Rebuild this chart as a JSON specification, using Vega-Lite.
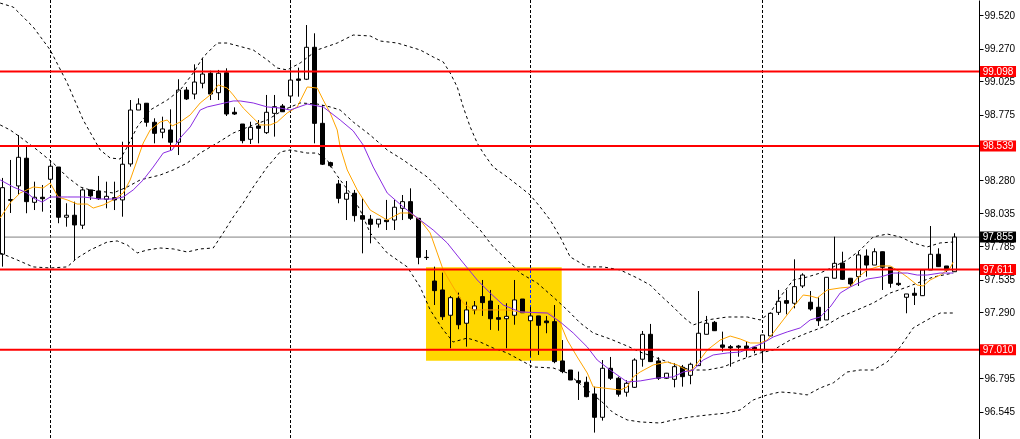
{
  "$schema": "https://vega.github.io/schema/vega-lite/v6.json",
  "width": 979,
  "height": 439,
  "autosize": {"type": "none"},
  "padding": {"left": 0, "top": 0, "right": 41, "bottom": 0},
  "background": "white",
  "config": {
    "view": {"stroke": null},
    "scale": {"continuousPadding": 0},
    "axisY": {
      "title": null, "grid": false, "format": ".3f", "zindex": 0,
      "domainColor": "black", "domainWidth": 1, "tickColor": "black", "tickSize": 4, "tickWidth": 1,
      "labelColor": "black", "labelFont": "Liberation Sans", "labelFontSize": 10, "labelPadding": 1,
      "labelOverlap": false, "labelFlush": false, "labelBound": false
    }
  },
  "datasets": {
    "zone": [{"i0": 52.94, "i1": 69.9, "bottom": 96.927, "top": 97.628}],
    "grid": [{"i": 6}, {"i": 36}, {"i": 66}, {"i": 95}],
    "levels": [{"p": 99.098}, {"p": 98.539}, {"p": 97.611}, {"p": 97.010}],
    "bid": [{"p": 97.855}],
    "candles": [
      {"i":0,"o":97.726,"h":98.299,"l":97.633,"c":98.226},
      {"i":1,"o":98.130,"h":98.434,"l":98.036,"c":98.137},
      {"i":2,"o":98.239,"h":98.621,"l":98.171,"c":98.454},
      {"i":3,"o":98.447,"h":98.539,"l":98.034,"c":98.121},
      {"i":4,"o":98.116,"h":98.271,"l":98.058,"c":98.154},
      {"i":5,"o":98.154,"h":98.246,"l":98.046,"c":98.143},
      {"i":6,"o":98.289,"h":98.409,"l":98.284,"c":98.387},
      {"i":7,"o":98.381,"h":98.381,"l":97.959,"c":98.004},
      {"i":8,"o":98.004,"h":98.109,"l":97.933,"c":98.019},
      {"i":9,"o":98.019,"h":98.121,"l":97.683,"c":97.946},
      {"i":10,"o":97.944,"h":98.221,"l":97.916,"c":98.209},
      {"i":11,"o":98.209,"h":98.209,"l":98.134,"c":98.164},
      {"i":12,"o":98.201,"h":98.314,"l":98.134,"c":98.143},
      {"i":13,"o":98.139,"h":98.271,"l":98.071,"c":98.161},
      {"i":14,"o":98.151,"h":98.271,"l":98.058,"c":98.134},
      {"i":15,"o":98.134,"h":98.571,"l":98.008,"c":98.402},
      {"i":16,"o":98.404,"h":98.884,"l":98.384,"c":98.809},
      {"i":17,"o":98.809,"h":98.897,"l":98.809,"c":98.854},
      {"i":18,"o":98.860,"h":98.860,"l":98.684,"c":98.717},
      {"i":19,"o":98.717,"h":98.747,"l":98.559,"c":98.634},
      {"i":20,"o":98.642,"h":98.759,"l":98.597,"c":98.667},
      {"i":21,"o":98.659,"h":98.814,"l":98.509,"c":98.567},
      {"i":22,"o":98.567,"h":99.040,"l":98.471,"c":98.959},
      {"i":23,"o":98.959,"h":98.982,"l":98.884,"c":98.892},
      {"i":24,"o":98.929,"h":99.152,"l":98.890,"c":99.019},
      {"i":25,"o":99.010,"h":99.197,"l":98.972,"c":99.079},
      {"i":26,"o":99.085,"h":99.104,"l":98.884,"c":98.929},
      {"i":27,"o":98.939,"h":99.110,"l":98.884,"c":99.085},
      {"i":28,"o":99.089,"h":99.122,"l":98.764,"c":98.779},
      {"i":29,"o":98.792,"h":98.829,"l":98.772,"c":98.779},
      {"i":30,"o":98.704,"h":98.704,"l":98.559,"c":98.579},
      {"i":31,"o":98.589,"h":98.721,"l":98.554,"c":98.679},
      {"i":32,"o":98.689,"h":98.734,"l":98.559,"c":98.672},
      {"i":33,"o":98.639,"h":98.922,"l":98.629,"c":98.792},
      {"i":34,"o":98.784,"h":98.922,"l":98.609,"c":98.834},
      {"i":35,"o":98.839,"h":98.854,"l":98.794,"c":98.796},
      {"i":36,"o":98.914,"h":99.172,"l":98.871,"c":99.034},
      {"i":37,"o":99.042,"h":99.127,"l":98.909,"c":99.032},
      {"i":38,"o":99.040,"h":99.447,"l":99.034,"c":99.280},
      {"i":39,"o":99.280,"h":99.385,"l":98.559,"c":98.709},
      {"i":40,"o":98.709,"h":98.847,"l":98.396,"c":98.402},
      {"i":41,"o":98.414,"h":98.421,"l":98.379,"c":98.391},
      {"i":42,"o":98.254,"h":98.284,"l":98.109,"c":98.146},
      {"i":43,"o":98.139,"h":98.276,"l":97.983,"c":98.184},
      {"i":44,"o":98.184,"h":98.209,"l":97.971,"c":98.016},
      {"i":45,"o":98.016,"h":98.146,"l":97.733,"c":97.989},
      {"i":46,"o":97.989,"h":98.021,"l":97.808,"c":97.951},
      {"i":47,"o":97.953,"h":97.989,"l":97.926,"c":97.989},
      {"i":48,"o":97.983,"h":98.134,"l":97.908,"c":97.971},
      {"i":49,"o":97.983,"h":98.134,"l":97.908,"c":98.079},
      {"i":50,"o":98.071,"h":98.171,"l":97.983,"c":98.121},
      {"i":51,"o":98.121,"h":98.221,"l":97.983,"c":97.996},
      {"i":52,"o":97.996,"h":97.996,"l":97.651,"c":97.703},
      {"i":53,"o":97.703,"h":97.758,"l":97.683,"c":97.701},
      {"i":54,"o":97.525,"h":97.633,"l":97.345,"c":97.453},
      {"i":55,"o":97.458,"h":97.588,"l":97.233,"c":97.257},
      {"i":56,"o":97.268,"h":97.413,"l":97.020,"c":97.400},
      {"i":57,"o":97.396,"h":97.438,"l":97.163,"c":97.197},
      {"i":58,"o":97.208,"h":97.370,"l":97.032,"c":97.308},
      {"i":59,"o":97.308,"h":97.375,"l":97.275,"c":97.338},
      {"i":60,"o":97.408,"h":97.533,"l":97.263,"c":97.363},
      {"i":61,"o":97.375,"h":97.458,"l":97.158,"c":97.242},
      {"i":62,"o":97.250,"h":97.345,"l":97.152,"c":97.238},
      {"i":63,"o":97.242,"h":97.358,"l":97.020,"c":97.260},
      {"i":64,"o":97.268,"h":97.533,"l":97.197,"c":97.383},
      {"i":65,"o":97.390,"h":97.390,"l":97.287,"c":97.287},
      {"i":66,"o":97.227,"h":97.332,"l":96.957,"c":97.263},
      {"i":67,"o":97.263,"h":97.263,"l":96.970,"c":97.193},
      {"i":68,"o":97.225,"h":97.263,"l":97.133,"c":97.212},
      {"i":69,"o":97.220,"h":97.345,"l":96.908,"c":96.920},
      {"i":70,"o":96.925,"h":97.082,"l":96.833,"c":96.845},
      {"i":71,"o":96.857,"h":96.857,"l":96.782,"c":96.782},
      {"i":72,"o":96.777,"h":96.845,"l":96.632,"c":96.762},
      {"i":73,"o":96.765,"h":96.807,"l":96.652,"c":96.657},
      {"i":74,"o":96.677,"h":96.732,"l":96.387,"c":96.502},
      {"i":75,"o":96.502,"h":96.932,"l":96.477,"c":96.870},
      {"i":76,"o":96.870,"h":96.955,"l":96.782,"c":96.795},
      {"i":77,"o":96.795,"h":96.807,"l":96.657,"c":96.675},
      {"i":78,"o":96.690,"h":96.780,"l":96.657,"c":96.757},
      {"i":79,"o":96.727,"h":96.945,"l":96.722,"c":96.932},
      {"i":80,"o":96.938,"h":97.150,"l":96.882,"c":97.125},
      {"i":81,"o":97.125,"h":97.203,"l":96.917,"c":96.920},
      {"i":82,"o":96.925,"h":96.953,"l":96.782,"c":96.795},
      {"i":83,"o":96.795,"h":96.835,"l":96.790,"c":96.833},
      {"i":84,"o":96.787,"h":96.908,"l":96.727,"c":96.882},
      {"i":85,"o":96.878,"h":96.895,"l":96.732,"c":96.807},
      {"i":86,"o":96.817,"h":96.912,"l":96.750,"c":96.900},
      {"i":87,"o":96.890,"h":97.450,"l":96.887,"c":97.133},
      {"i":88,"o":97.125,"h":97.263,"l":97.125,"c":97.208},
      {"i":89,"o":97.215,"h":97.225,"l":97.150,"c":97.152},
      {"i":90,"o":97.045,"h":97.145,"l":96.995,"c":97.028},
      {"i":91,"o":97.032,"h":97.045,"l":96.882,"c":97.022},
      {"i":92,"o":97.037,"h":97.045,"l":96.957,"c":97.028},
      {"i":93,"o":97.037,"h":97.070,"l":96.953,"c":97.017},
      {"i":94,"o":97.028,"h":97.032,"l":96.983,"c":97.007},
      {"i":95,"o":97.000,"h":97.120,"l":96.908,"c":97.120},
      {"i":96,"o":97.113,"h":97.283,"l":97.107,"c":97.283},
      {"i":97,"o":97.290,"h":97.458,"l":97.270,"c":97.373},
      {"i":98,"o":97.378,"h":97.458,"l":97.275,"c":97.358},
      {"i":99,"o":97.358,"h":97.688,"l":97.320,"c":97.483},
      {"i":100,"o":97.488,"h":97.583,"l":97.473,"c":97.570},
      {"i":101,"o":97.366,"h":97.450,"l":97.302,"c":97.315},
      {"i":102,"o":97.328,"h":97.403,"l":97.188,"c":97.227},
      {"i":103,"o":97.233,"h":97.553,"l":97.233,"c":97.553},
      {"i":104,"o":97.546,"h":97.858,"l":97.546,"c":97.658},
      {"i":105,"o":97.660,"h":97.745,"l":97.533,"c":97.538},
      {"i":106,"o":97.546,"h":97.548,"l":97.488,"c":97.503},
      {"i":107,"o":97.558,"h":97.745,"l":97.488,"c":97.721},
      {"i":108,"o":97.713,"h":97.763,"l":97.558,"c":97.645},
      {"i":109,"o":97.645,"h":97.771,"l":97.645,"c":97.745},
      {"i":110,"o":97.745,"h":97.745,"l":97.458,"c":97.628},
      {"i":111,"o":97.628,"h":97.628,"l":97.475,"c":97.508},
      {"i":112,"o":97.508,"h":97.595,"l":97.488,"c":97.498},
      {"i":113,"o":97.403,"h":97.428,"l":97.283,"c":97.428},
      {"i":114,"o":97.433,"h":97.475,"l":97.345,"c":97.418},
      {"i":115,"o":97.415,"h":97.608,"l":97.413,"c":97.608},
      {"i":116,"o":97.608,"h":97.938,"l":97.608,"c":97.726},
      {"i":117,"o":97.726,"h":97.771,"l":97.633,"c":97.633},
      {"i":118,"o":97.638,"h":97.638,"l":97.593,"c":97.608},
      {"i":119,"o":97.595,"h":97.884,"l":97.593,"c":97.855}
    ],
    "bands": [
      {"s":"upper","i":-0.29,"p":99.612},{"s":"upper","i":1.34,"p":99.582},{"s":"upper","i":3.84,"p":99.432},{"s":"upper","i":5.96,"p":99.26},{"s":"upper","i":8.09,"p":99.012},{"s":"upper","i":10.09,"p":98.734},{"s":"upper","i":12.21,"p":98.509},{"s":"upper","i":13.46,"p":98.449},{"s":"upper","i":14.71,"p":98.441},{"s":"upper","i":15.59,"p":98.531},{"s":"upper","i":16.84,"p":98.682},{"s":"upper","i":18.46,"p":98.809},{"s":"upper","i":20.59,"p":98.884},{"s":"upper","i":22.21,"p":98.959},{"s":"upper","i":23.84,"p":99.087},{"s":"upper","i":25.09,"p":99.207},{"s":"upper","i":26.84,"p":99.312},{"s":"upper","i":28.09,"p":99.312},{"s":"upper","i":31.34,"p":99.26},{"s":"upper","i":33.09,"p":99.185},{"s":"upper","i":34.34,"p":99.124},{"s":"upper","i":35.59,"p":99.11},{"s":"upper","i":37.21,"p":99.162},{"s":"upper","i":39.34,"p":99.26},{"s":"upper","i":41.84,"p":99.312},{"s":"upper","i":43.84,"p":99.372},{"s":"upper","i":45.96,"p":99.365},{"s":"upper","i":47.21,"p":99.327},{"s":"upper","i":49.34,"p":99.312},{"s":"upper","i":52.21,"p":99.26},{"s":"upper","i":53.84,"p":99.207},{"s":"upper","i":55.09,"p":99.17},{"s":"upper","i":55.96,"p":99.087},{"s":"upper","i":56.84,"p":98.982},{"s":"upper","i":57.59,"p":98.832},{"s":"upper","i":58.46,"p":98.682},{"s":"upper","i":59.34,"p":98.561},{"s":"upper","i":60.09,"p":98.486},{"s":"upper","i":61.34,"p":98.381},{"s":"upper","i":63.09,"p":98.306},{"s":"upper","i":64.71,"p":98.231},{"s":"upper","i":65.96,"p":98.171},{"s":"upper","i":67.21,"p":98.081},{"s":"upper","i":68.46,"p":97.983},{"s":"upper","i":69.71,"p":97.856},{"s":"upper","i":70.96,"p":97.706},{"s":"upper","i":73.09,"p":97.631},{"s":"upper","i":75.09,"p":97.631},{"s":"upper","i":77.21,"p":97.608},{"s":"upper","i":79.34,"p":97.548},{"s":"upper","i":80.96,"p":97.495},{"s":"upper","i":82.21,"p":97.42},{"s":"upper","i":83.84,"p":97.33},{"s":"upper","i":85.09,"p":97.255},{"s":"upper","i":86.34,"p":97.195},{"s":"upper","i":88.09,"p":97.233},{"s":"upper","i":90.59,"p":97.255},{"s":"upper","i":93.09,"p":97.255},{"s":"upper","i":94.71,"p":97.233},{"s":"upper","i":95.96,"p":97.285},{"s":"upper","i":97.21,"p":97.405},{"s":"upper","i":98.84,"p":97.533},{"s":"upper","i":100.59,"p":97.555},{"s":"upper","i":102.21,"p":97.585},{"s":"upper","i":103.84,"p":97.631},{"s":"upper","i":105.59,"p":97.683},{"s":"upper","i":107.21,"p":97.758},{"s":"upper","i":108.84,"p":97.856},{"s":"upper","i":110.59,"p":97.878},{"s":"upper","i":112.21,"p":97.856},{"s":"upper","i":113.84,"p":97.811},{"s":"upper","i":115.59,"p":97.781},{"s":"upper","i":117.21,"p":97.811},{"s":"upper","i":118.84,"p":97.818},
      {"s":"middle","i":-0.29,"p":98.697},{"s":"middle","i":0.96,"p":98.659},{"s":"middle","i":2.21,"p":98.606},{"s":"middle","i":4.34,"p":98.509},{"s":"middle","i":6.34,"p":98.411},{"s":"middle","i":8.09,"p":98.306},{"s":"middle","i":9.71,"p":98.231},{"s":"middle","i":10.96,"p":98.209},{"s":"middle","i":13.84,"p":98.186},{"s":"middle","i":15.59,"p":98.231},{"s":"middle","i":17.21,"p":98.284},{"s":"middle","i":19.71,"p":98.321},{"s":"middle","i":21.34,"p":98.359},{"s":"middle","i":23.09,"p":98.411},{"s":"middle","i":24.71,"p":98.486},{"s":"middle","i":26.84,"p":98.561},{"s":"middle","i":28.84,"p":98.636},{"s":"middle","i":31.34,"p":98.697},{"s":"middle","i":33.09,"p":98.734},{"s":"middle","i":35.09,"p":98.809},{"s":"middle","i":37.21,"p":98.862},{"s":"middle","i":39.34,"p":98.854},{"s":"middle","i":40.96,"p":98.832},{"s":"middle","i":42.21,"p":98.809},{"s":"middle","i":43.84,"p":98.719},{"s":"middle","i":45.96,"p":98.621},{"s":"middle","i":48.09,"p":98.509},{"s":"middle","i":50.09,"p":98.434},{"s":"middle","i":51.34,"p":98.381},{"s":"middle","i":53.09,"p":98.306},{"s":"middle","i":54.71,"p":98.209},{"s":"middle","i":56.34,"p":98.111},{"s":"middle","i":58.09,"p":98.006},{"s":"middle","i":59.71,"p":97.908},{"s":"middle","i":61.34,"p":97.781},{"s":"middle","i":63.09,"p":97.683},{"s":"middle","i":64.71,"p":97.585},{"s":"middle","i":66.84,"p":97.51},{"s":"middle","i":68.84,"p":97.405},{"s":"middle","i":70.59,"p":97.308},{"s":"middle","i":72.21,"p":97.21},{"s":"middle","i":73.84,"p":97.135},{"s":"middle","i":75.96,"p":97.09},{"s":"middle","i":78.09,"p":97.037},{"s":"middle","i":79.71,"p":96.992},{"s":"middle","i":85.96,"p":96.857},{"s":"middle","i":88.09,"p":96.857},{"s":"middle","i":90.09,"p":96.88},{"s":"middle","i":92.21,"p":96.932},{"s":"middle","i":94.71,"p":96.985},{"s":"middle","i":96.34,"p":97.007},{"s":"middle","i":98.46,"p":97.082},{"s":"middle","i":100.59,"p":97.135},{"s":"middle","i":102.59,"p":97.18},{"s":"middle","i":104.71,"p":97.255},{"s":"middle","i":106.84,"p":97.308},{"s":"middle","i":108.84,"p":97.36},{"s":"middle","i":110.96,"p":97.435},{"s":"middle","i":113.09,"p":97.48},{"s":"middle","i":114.71,"p":97.518},{"s":"middle","i":116.34,"p":97.555},{"s":"middle","i":118.84,"p":97.585},
      {"s":"lower","i":-0.29,"p":97.736},{"s":"lower","i":1.84,"p":97.683},{"s":"lower","i":3.84,"p":97.631},{"s":"lower","i":5.96,"p":97.623},{"s":"lower","i":8.09,"p":97.631},{"s":"lower","i":9.34,"p":97.698},{"s":"lower","i":10.96,"p":97.758},{"s":"lower","i":13.09,"p":97.818},{"s":"lower","i":14.34,"p":97.826},{"s":"lower","i":15.59,"p":97.796},{"s":"lower","i":16.84,"p":97.736},{"s":"lower","i":18.09,"p":97.758},{"s":"lower","i":19.71,"p":97.773},{"s":"lower","i":21.34,"p":97.766},{"s":"lower","i":23.09,"p":97.743},{"s":"lower","i":24.71,"p":97.766},{"s":"lower","i":26.34,"p":97.773},{"s":"lower","i":27.59,"p":97.886},{"s":"lower","i":28.84,"p":98.006},{"s":"lower","i":30.09,"p":98.111},{"s":"lower","i":31.34,"p":98.231},{"s":"lower","i":33.09,"p":98.381},{"s":"lower","i":34.71,"p":98.494},{"s":"lower","i":35.96,"p":98.509},{"s":"lower","i":38.09,"p":98.486},{"s":"lower","i":39.34,"p":98.486},{"s":"lower","i":40.59,"p":98.434},{"s":"lower","i":41.34,"p":98.359},{"s":"lower","i":42.21,"p":98.284},{"s":"lower","i":43.46,"p":98.186},{"s":"lower","i":44.71,"p":98.058},{"s":"lower","i":45.96,"p":97.886},{"s":"lower","i":48.09,"p":97.736},{"s":"lower","i":50.59,"p":97.631},{"s":"lower","i":52.21,"p":97.48},{"s":"lower","i":53.46,"p":97.308},{"s":"lower","i":55.09,"p":97.158},{"s":"lower","i":56.34,"p":97.067},{"s":"lower","i":58.09,"p":97.097},{"s":"lower","i":59.71,"p":97.067},{"s":"lower","i":61.34,"p":97.022},{"s":"lower","i":63.09,"p":96.985},{"s":"lower","i":64.71,"p":96.932},{"s":"lower","i":66.34,"p":96.88},{"s":"lower","i":68.84,"p":96.872},{"s":"lower","i":70.59,"p":96.835},{"s":"lower","i":73.09,"p":96.707},{"s":"lower","i":75.09,"p":96.61},{"s":"lower","i":76.34,"p":96.535},{"s":"lower","i":78.09,"p":96.482},{"s":"lower","i":79.71,"p":96.467},{"s":"lower","i":82.21,"p":96.459},{"s":"lower","i":83.84,"p":96.482},{"s":"lower","i":85.96,"p":96.504},{"s":"lower","i":88.09,"p":96.519},{"s":"lower","i":90.59,"p":96.534},{"s":"lower","i":92.21,"p":96.557},{"s":"lower","i":93.84,"p":96.632},{"s":"lower","i":95.59,"p":96.67},{"s":"lower","i":97.21,"p":96.692},{"s":"lower","i":98.84,"p":96.685},{"s":"lower","i":100.59,"p":96.67},{"s":"lower","i":102.21,"p":96.722},{"s":"lower","i":103.84,"p":96.76},{"s":"lower","i":105.59,"p":96.842},{"s":"lower","i":107.21,"p":96.857},{"s":"lower","i":108.84,"p":96.857},{"s":"lower","i":110.59,"p":96.917},{"s":"lower","i":112.21,"p":97.03},{"s":"lower","i":113.84,"p":97.173},{"s":"lower","i":115.59,"p":97.233},{"s":"lower","i":117.21,"p":97.285},{"s":"lower","i":118.84,"p":97.285}
    ],
    "averages": [
      {"s":"fast","i":-0.29,"p":97.998},{"s":"fast","i":0.96,"p":98.111},{"s":"fast","i":2.21,"p":98.186},{"s":"fast","i":3.84,"p":98.231},{"s":"fast","i":5.09,"p":98.224},{"s":"fast","i":5.96,"p":98.261},{"s":"fast","i":6.96,"p":98.156},{"s":"fast","i":8.09,"p":98.134},{"s":"fast","i":9.34,"p":98.103},{"s":"fast","i":10.59,"p":98.103},{"s":"fast","i":11.34,"p":98.073},{"s":"fast","i":12.59,"p":98.096},{"s":"fast","i":13.84,"p":98.134},{"s":"fast","i":15.09,"p":98.186},{"s":"fast","i":15.96,"p":98.284},{"s":"fast","i":16.84,"p":98.434},{"s":"fast","i":17.59,"p":98.561},{"s":"fast","i":18.46,"p":98.659},{"s":"fast","i":19.71,"p":98.719},{"s":"fast","i":20.59,"p":98.734},{"s":"fast","i":21.21,"p":98.689},{"s":"fast","i":22.21,"p":98.719},{"s":"fast","i":23.46,"p":98.772},{"s":"fast","i":24.71,"p":98.862},{"s":"fast","i":25.96,"p":98.922},{"s":"fast","i":26.96,"p":98.997},{"s":"fast","i":28.09,"p":98.974},{"s":"fast","i":28.84,"p":98.922},{"s":"fast","i":30.09,"p":98.824},{"s":"fast","i":31.34,"p":98.749},{"s":"fast","i":32.21,"p":98.697},{"s":"fast","i":33.46,"p":98.697},{"s":"fast","i":34.34,"p":98.719},{"s":"fast","i":35.59,"p":98.787},{"s":"fast","i":36.84,"p":98.832},{"s":"fast","i":38.09,"p":98.982},{"s":"fast","i":39.34,"p":98.974},{"s":"fast","i":40.09,"p":98.884},{"s":"fast","i":40.96,"p":98.787},{"s":"fast","i":41.84,"p":98.659},{"s":"fast","i":42.21,"p":98.531},{"s":"fast","i":43.09,"p":98.359},{"s":"fast","i":44.34,"p":98.209},{"s":"fast","i":45.96,"p":98.058},{"s":"fast","i":48.09,"p":97.983},{"s":"fast","i":49.71,"p":98.036},{"s":"fast","i":50.96,"p":98.036},{"s":"fast","i":52.21,"p":97.983},{"s":"fast","i":53.46,"p":97.886},{"s":"fast","i":54.34,"p":97.736},{"s":"fast","i":55.09,"p":97.608},{"s":"fast","i":56.34,"p":97.48},{"s":"fast","i":57.59,"p":97.36},{"s":"fast","i":58.84,"p":97.308},{"s":"fast","i":60.59,"p":97.308},{"s":"fast","i":63.09,"p":97.308},{"s":"fast","i":64.71,"p":97.293},{"s":"fast","i":66.84,"p":97.285},{"s":"fast","i":68.46,"p":97.285},{"s":"fast","i":69.71,"p":97.21},{"s":"fast","i":70.59,"p":97.082},{"s":"fast","i":71.84,"p":96.955},{"s":"fast","i":73.09,"p":96.835},{"s":"fast","i":73.84,"p":96.73},{"s":"fast","i":75.09,"p":96.722},{"s":"fast","i":77.21,"p":96.707},{"s":"fast","i":78.09,"p":96.73},{"s":"fast","i":78.84,"p":96.805},{"s":"fast","i":79.71,"p":96.842},{"s":"fast","i":81.34,"p":96.895},{"s":"fast","i":83.09,"p":96.917},{"s":"fast","i":84.34,"p":96.895},{"s":"fast","i":85.96,"p":96.842},{"s":"fast","i":86.96,"p":96.917},{"s":"fast","i":88.09,"p":97.007},{"s":"fast","i":89.71,"p":97.082},{"s":"fast","i":90.96,"p":97.112},{"s":"fast","i":92.21,"p":97.09},{"s":"fast","i":93.46,"p":97.06},{"s":"fast","i":94.71,"p":97.06},{"s":"fast","i":95.59,"p":97.082},{"s":"fast","i":96.34,"p":97.135},{"s":"fast","i":97.59,"p":97.233},{"s":"fast","i":98.84,"p":97.33},{"s":"fast","i":100.09,"p":97.42},{"s":"fast","i":100.96,"p":97.413},{"s":"fast","i":101.84,"p":97.398},{"s":"fast","i":103.09,"p":97.458},{"s":"fast","i":104.71,"p":97.473},{"s":"fast","i":105.96,"p":97.48},{"s":"fast","i":106.84,"p":97.548},{"s":"fast","i":108.09,"p":97.608},{"s":"fast","i":109.71,"p":97.638},{"s":"fast","i":110.96,"p":97.638},{"s":"fast","i":112.21,"p":97.593},{"s":"fast","i":113.09,"p":97.555},{"s":"fast","i":114.34,"p":97.495},{"s":"fast","i":115.09,"p":97.488},{"s":"fast","i":115.96,"p":97.533},{"s":"fast","i":117.21,"p":97.57},{"s":"fast","i":118.46,"p":97.623},{"s":"fast","i":118.84,"p":97.668},
      {"s":"slow","i":-0.29,"p":98.284},{"s":"slow","i":1.34,"p":98.231},{"s":"slow","i":3.09,"p":98.186},{"s":"slow","i":3.84,"p":98.148},{"s":"slow","i":4.96,"p":98.118},{"s":"slow","i":5.96,"p":98.156},{"s":"slow","i":8.09,"p":98.156},{"s":"slow","i":10.09,"p":98.156},{"s":"slow","i":12.21,"p":98.141},{"s":"slow","i":13.84,"p":98.141},{"s":"slow","i":15.09,"p":98.156},{"s":"slow","i":16.34,"p":98.209},{"s":"slow","i":17.59,"p":98.284},{"s":"slow","i":18.84,"p":98.381},{"s":"slow","i":20.09,"p":98.486},{"s":"slow","i":21.21,"p":98.509},{"s":"slow","i":22.21,"p":98.599},{"s":"slow","i":23.46,"p":98.682},{"s":"slow","i":24.71,"p":98.809},{"s":"slow","i":25.59,"p":98.832},{"s":"slow","i":27.21,"p":98.854},{"s":"slow","i":28.84,"p":98.877},{"s":"slow","i":29.71,"p":98.877},{"s":"slow","i":31.34,"p":98.862},{"s":"slow","i":33.09,"p":98.832},{"s":"slow","i":34.71,"p":98.824},{"s":"slow","i":35.96,"p":98.809},{"s":"slow","i":38.09,"p":98.854},{"s":"slow","i":40.09,"p":98.832},{"s":"slow","i":42.21,"p":98.734},{"s":"slow","i":43.84,"p":98.652},{"s":"slow","i":45.09,"p":98.546},{"s":"slow","i":46.34,"p":98.381},{"s":"slow","i":48.09,"p":98.186},{"s":"slow","i":50.09,"p":98.081},{"s":"slow","i":52.21,"p":97.983},{"s":"slow","i":53.84,"p":97.908},{"s":"slow","i":55.59,"p":97.811},{"s":"slow","i":57.59,"p":97.661},{"s":"slow","i":59.34,"p":97.533},{"s":"slow","i":60.96,"p":97.435},{"s":"slow","i":62.59,"p":97.345},{"s":"slow","i":64.71,"p":97.293},{"s":"slow","i":68.09,"p":97.285},{"s":"slow","i":69.71,"p":97.218},{"s":"slow","i":71.34,"p":97.135},{"s":"slow","i":73.09,"p":97.03},{"s":"slow","i":74.34,"p":96.932},{"s":"slow","i":75.96,"p":96.857},{"s":"slow","i":78.09,"p":96.767},{"s":"slow","i":79.71,"p":96.775},{"s":"slow","i":81.84,"p":96.797},{"s":"slow","i":83.84,"p":96.805},{"s":"slow","i":85.09,"p":96.842},{"s":"slow","i":86.34,"p":96.857},{"s":"slow","i":87.59,"p":96.932},{"s":"slow","i":88.84,"p":96.97},{"s":"slow","i":90.59,"p":96.985},{"s":"slow","i":92.21,"p":96.992},{"s":"slow","i":93.84,"p":97.03},{"s":"slow","i":95.09,"p":97.06},{"s":"slow","i":96.34,"p":97.105},{"s":"slow","i":98.09,"p":97.143},{"s":"slow","i":99.71,"p":97.173},{"s":"slow","i":100.96,"p":97.233},{"s":"slow","i":102.21,"p":97.255},{"s":"slow","i":103.46,"p":97.33},{"s":"slow","i":104.71,"p":97.435},{"s":"slow","i":105.96,"p":97.48},{"s":"slow","i":108.09,"p":97.54},{"s":"slow","i":109.71,"p":97.555},{"s":"slow","i":111.34,"p":97.585},{"s":"slow","i":113.09,"p":97.585},{"s":"slow","i":114.34,"p":97.57},{"s":"slow","i":115.59,"p":97.57},{"s":"slow","i":117.21,"p":97.585},{"s":"slow","i":118.84,"p":97.585}
    ]
  },
  "layer": [
    {
      "data": {"name": "zone"},
      "mark": {"type": "rect", "color": "#FFD700"},
      "encoding": {
        "x": {"field": "i0", "type": "quantitative", "scale": {"domain": [-0.3125, 122.0625], "nice": false, "zero": false, "padding": 0}, "axis": null},
        "x2": {"field": "i1"},
        "y": {"field": "bottom", "type": "quantitative", "scale": {"domain": [96.339, 99.635], "nice": false, "zero": false, "padding": 0},
          "axis": {"orient": "right", "values": [99.52, 99.27, 99.025, 98.775, 98.28, 98.035, 97.785, 97.535, 97.29, 96.795, 96.545]}},
        "y2": {"field": "top"}
      }
    },
    {
      "data": {"name": "grid"},
      "mark": {"type": "rule", "color": "white", "strokeWidth": 1, "strokeDash": [3, 2], "blend": "difference"},
      "encoding": {
        "x": {"field": "i", "type": "quantitative", "scale": {"domain": [-0.3125, 122.0625], "nice": false, "zero": false, "padding": 0}, "axis": null}
      }
    },
    {
      "data": {"name": "bid"},
      "mark": {"type": "rule", "color": "#808080", "strokeWidth": 1},
      "encoding": {
        "y": {"field": "p", "type": "quantitative", "scale": {"domain": [96.339, 99.635], "nice": false, "zero": false, "padding": 0},
          "axis": {"orient": "right", "values": [99.52, 99.27, 99.025, 98.775, 98.28, 98.035, 97.785, 97.535, 97.29, 96.795, 96.545]}}
      }
    },
    {
      "data": {"name": "candles"},
      "mark": {"type": "rule", "color": "black", "strokeWidth": 1},
      "encoding": {
        "x": {"field": "i", "type": "quantitative", "scale": {"domain": [-0.3125, 122.0625], "nice": false, "zero": false, "padding": 0}, "axis": null},
        "y": {"field": "l", "type": "quantitative", "scale": {"domain": [96.339, 99.635], "nice": false, "zero": false, "padding": 0},
          "axis": {"orient": "right", "values": [99.52, 99.27, 99.025, 98.775, 98.28, 98.035, 97.785, 97.535, 97.29, 96.795, 96.545]}},
        "y2": {"field": "h"}
      }
    },
    {
      "data": {"name": "candles"},
      "mark": {"type": "bar", "width": 4, "stroke": "black", "strokeWidth": 1},
      "encoding": {
        "x": {"field": "i", "type": "quantitative", "scale": {"domain": [-0.3125, 122.0625], "nice": false, "zero": false, "padding": 0}, "axis": null},
        "y": {"field": "o", "type": "quantitative", "scale": {"domain": [96.339, 99.635], "nice": false, "zero": false, "padding": 0},
          "axis": {"orient": "right", "values": [99.52, 99.27, 99.025, 98.775, 98.28, 98.035, 97.785, 97.535, 97.29, 96.795, 96.545]}},
        "y2": {"field": "c"},
        "fill": {"condition": {"test": "datum.c >= datum.o", "value": "white"}, "value": "black"}
      }
    },
    {
      "data": {"name": "bands"},
      "mark": {"type": "line", "color": "black", "strokeWidth": 1, "strokeDash": [3, 3]},
      "encoding": {
        "x": {"field": "i", "type": "quantitative", "scale": {"domain": [-0.3125, 122.0625], "nice": false, "zero": false, "padding": 0}, "axis": null},
        "y": {"field": "p", "type": "quantitative", "scale": {"domain": [96.339, 99.635], "nice": false, "zero": false, "padding": 0},
          "axis": {"orient": "right", "values": [99.52, 99.27, 99.025, 98.775, 98.28, 98.035, 97.785, 97.535, 97.29, 96.795, 96.545]}},
        "detail": {"field": "s", "type": "nominal"}
      }
    },
    {
      "data": {"name": "averages"},
      "mark": {"type": "line", "strokeWidth": 1},
      "encoding": {
        "x": {"field": "i", "type": "quantitative", "scale": {"domain": [-0.3125, 122.0625], "nice": false, "zero": false, "padding": 0}, "axis": null},
        "y": {"field": "p", "type": "quantitative", "scale": {"domain": [96.339, 99.635], "nice": false, "zero": false, "padding": 0},
          "axis": {"orient": "right", "values": [99.52, 99.27, 99.025, 98.775, 98.28, 98.035, 97.785, 97.535, 97.29, 96.795, 96.545]}},
        "color": {"field": "s", "type": "nominal", "scale": {"domain": ["fast", "slow"], "range": ["#FFA500", "#8A2BE2"]}, "legend": null}
      }
    },
    {
      "data": {"name": "levels"},
      "mark": {"type": "rule", "color": "#FF0000", "strokeWidth": 2},
      "encoding": {
        "y": {"field": "p", "type": "quantitative", "scale": {"domain": [96.339, 99.635], "nice": false, "zero": false, "padding": 0},
          "axis": {"orient": "right", "values": [99.52, 99.27, 99.025, 98.775, 98.28, 98.035, 97.785, 97.535, 97.29, 96.795, 96.545]}}
      }
    },
    {
      "data": {"name": "levels"},
      "mark": {"type": "tick", "orient": "horizontal", "size": 36, "thickness": 11, "color": "#FF0000", "opacity": 1},
      "encoding": {
        "x": {"datum": 124.44, "type": "quantitative", "scale": {"domain": [-0.3125, 122.0625], "nice": false, "zero": false, "padding": 0}, "axis": null},
        "y": {"field": "p", "type": "quantitative", "scale": {"domain": [96.339, 99.635], "nice": false, "zero": false, "padding": 0},
          "axis": {"orient": "right", "values": [99.52, 99.27, 99.025, 98.775, 98.28, 98.035, 97.785, 97.535, 97.29, 96.795, 96.545]}}
      }
    },
    {
      "data": {"name": "bid"},
      "mark": {"type": "tick", "orient": "horizontal", "size": 36, "thickness": 11, "color": "black", "opacity": 1},
      "encoding": {
        "x": {"datum": 124.44, "type": "quantitative", "scale": {"domain": [-0.3125, 122.0625], "nice": false, "zero": false, "padding": 0}, "axis": null},
        "y": {"field": "p", "type": "quantitative", "scale": {"domain": [96.339, 99.635], "nice": false, "zero": false, "padding": 0},
          "axis": {"orient": "right", "values": [99.52, 99.27, 99.025, 98.775, 98.28, 98.035, 97.785, 97.535, 97.29, 96.795, 96.545]}}
      }
    },
    {
      "data": {"name": "levels"},
      "mark": {"type": "text", "color": "white", "font": "Liberation Sans", "fontSize": 10, "align": "center", "baseline": "middle"},
      "encoding": {
        "x": {"datum": 124.44, "type": "quantitative", "scale": {"domain": [-0.3125, 122.0625], "nice": false, "zero": false, "padding": 0}, "axis": null},
        "y": {"field": "p", "type": "quantitative", "scale": {"domain": [96.339, 99.635], "nice": false, "zero": false, "padding": 0},
          "axis": {"orient": "right", "values": [99.52, 99.27, 99.025, 98.775, 98.28, 98.035, 97.785, 97.535, 97.29, 96.795, 96.545]}},
        "text": {"field": "p", "type": "quantitative", "format": ".3f"}
      }
    },
    {
      "data": {"name": "bid"},
      "mark": {"type": "text", "color": "white", "font": "Liberation Sans", "fontSize": 10, "align": "center", "baseline": "middle"},
      "encoding": {
        "x": {"datum": 124.44, "type": "quantitative", "scale": {"domain": [-0.3125, 122.0625], "nice": false, "zero": false, "padding": 0}, "axis": null},
        "y": {"field": "p", "type": "quantitative", "scale": {"domain": [96.339, 99.635], "nice": false, "zero": false, "padding": 0},
          "axis": {"orient": "right", "values": [99.52, 99.27, 99.025, 98.775, 98.28, 98.035, 97.785, 97.535, 97.29, 96.795, 96.545]}},
        "text": {"field": "p", "type": "quantitative", "format": ".3f"}
      }
    }
  ]
}
